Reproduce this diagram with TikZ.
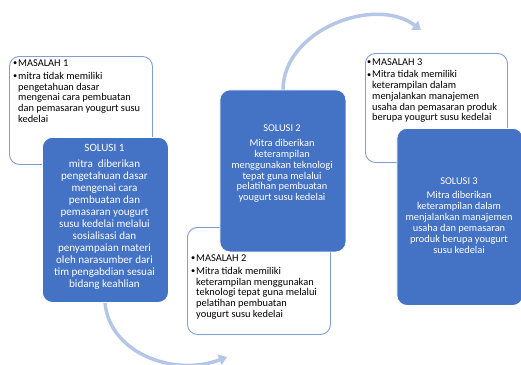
\documentclass[tikz,border=0pt]{standalone}
\usepackage{fontspec}
\setmainfont{Carlito}
\usetikzlibrary{arrows.meta}
\definecolor{solfill}{HTML}{4472C4}
\definecolor{masborder}{HTML}{7F9ED8}
\definecolor{arrowcol}{HTML}{B4C7E7}
\tikzset{
  masbox/.style={draw=masborder, line width=0.9pt, fill=white, rounded corners=10pt},
  solbox/.style={fill=solfill, draw=white, line width=0.8pt, rounded corners=10pt},
  mastext/.style={anchor=north west, align=left, inner sep=0pt, font=\fontsize{10.4}{10.7}\selectfont, text=black},
  soltext/.style={align=center, inner sep=0pt, text=white},
  flowarrow/.style={draw=arrowcol, line width=3.5pt, -{Triangle[length=8pt,width=11pt]}}
}
\newcommand{\bul}{\makebox[5pt][l]{\raisebox{0.5pt}{\scalebox{0.8}{\textbullet}}}}
\begin{document}
\begin{tikzpicture}[x=1pt,y=-1pt]
\useasboundingbox (0,0) rectangle (521,364);
% arrows
\coordinate (a1s) at (105,303);
\coordinate (a1e) at (227,357);
\coordinate (a2s) at (283,90);
\coordinate (a2e) at (421,30);
\draw[flowarrow] (a1s) .. controls (110,354) and (175,377) .. (a1e);
\draw[flowarrow] (a2s) .. controls (283,30) and (375,-5) .. (a2e);
% masalah 1
\node[masbox, minimum width=143pt, minimum height=108pt, anchor=north west] (m1) at (9,56) {};
\node[mastext] (m1t) at (13,59.5) {\bul MASALAH 1\\[2.3pt]
\bul mitra tidak memiliki\\
\hspace*{5pt}pengetahuan dasar\\
\hspace*{5pt}mengenai cara pembuatan\\
\hspace*{5pt}dan pemasaran yougurt susu\\
\hspace*{5pt}kedelai};
% solusi 1
\node[solbox, minimum width=126pt, minimum height=165pt, anchor=north west] (s1) at (42,137) {};
\node[soltext, font=\fontsize{11.1}{12}\selectfont, anchor=north] (s1t) at (104.5,144) {SOLUSI 1\\[4.5pt]
mitra\ \ diberikan\\
pengetahuan dasar\\
mengenai cara\\
pembuatan dan\\
pemasaran yougurt\\
susu kedelai melalui\\
sosialisasi dan\\
penyampaian materi\\
oleh narasumber dari\\
tim pengabdian sesuai\\
bidang keahlian};
% masalah 2
\node[masbox, minimum width=143pt, minimum height=107pt, anchor=north west] (m2) at (187,227) {};
% solusi 2
\node[solbox, minimum width=126pt, minimum height=162pt, anchor=north west] (s2) at (219.5,89.5) {};
\node[soltext, font=\fontsize{10.4}{10.9}\selectfont, anchor=north] (s2t) at (282,125) {SOLUSI 2\\[3.5pt]
Mitra diberikan\\
keterampilan\\
menggunakan teknologi\\
tepat guna melalui\\
pelatihan pembuatan\\
yougurt susu kedelai};
\node[mastext] (m2t) at (191,254.5) {\bul MASALAH 2\\[2.3pt]
\bul Mitra tidak memiliki\\
\hspace*{5pt}keterampilan menggunakan\\
\hspace*{5pt}teknologi tepat guna melalui\\
\hspace*{5pt}pelatihan pembuatan\\
\hspace*{5pt}yougurt susu kedelai};
% masalah 3
\node[masbox, minimum width=142pt, minimum height=109pt, anchor=north west] (m3) at (365,53) {};
\node[mastext] (m3t) at (367,58.5) {\bul MASALAH 3\\[1.8pt]
\bul Mitra tidak memiliki\\
\hspace*{5pt}keterampilan dalam\\
\hspace*{5pt}menjalankan manajemen\\
\hspace*{5pt}usaha dan pemasaran produk\\
\hspace*{5pt}berupa yougurt susu kedelai};
% solusi 3
\node[solbox, minimum width=126pt, minimum height=177pt, anchor=north west] (s3) at (396.5,128) {};
\node[soltext, font=\fontsize{10.4}{10.9}\selectfont, anchor=north] (s3t) at (459,177.5) {SOLUSI 3\\[3.5pt]
Mitra diberikan\\
keterampilan dalam\\
menjalankan manajemen\\
usaha dan pemasaran\\
produk berupa yougurt\\
susu kedelai};
\end{tikzpicture}
\end{document}
